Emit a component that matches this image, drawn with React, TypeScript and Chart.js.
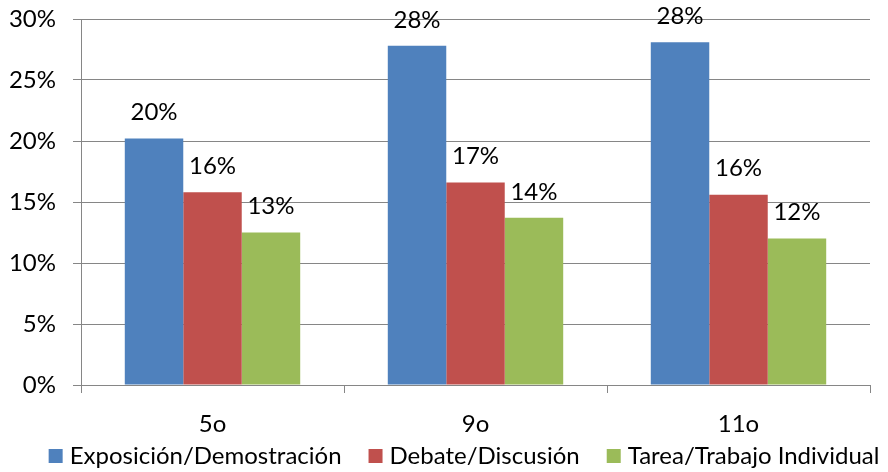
import { useEffect, useRef } from "react";
import { Chart, registerables } from "chart.js";

Chart.register(...registerables);

const FONT = "Lato, 'Open Sans', sans-serif";
const FONT_SIZE = 24;

const categories = ["5o", "9o", "11o"];
const seriesNames = ["Exposición/Demostración", "Debate/Discusión", "Tarea/Trabajo Individual"];
const exposicion = [20.2, 27.8, 28.1];
const debate = [15.8, 16.6, 15.6];
const tarea = [12.5, 13.7, 12.0];
const seriesColors = ["#4F81BD", "#C0504D", "#9BBB59"];
const yMin = 0;
const yMax = 30;
const yStep = 5;

const GRID = "#868686";

// Percentage labels drawn above each bar
const valueLabels = {
  id: "valueLabels",
  afterDatasetsDraw(chart: any) {
    const ctx = chart.ctx;
    ctx.save();
    ctx.font = `${FONT_SIZE}px ${FONT}`;
    ctx.fillStyle = "#000000";
    ctx.textAlign = "center";
    ctx.textBaseline = "middle";
    chart.data.datasets.forEach((ds: any, i: number) => {
      const meta = chart.getDatasetMeta(i);
      meta.data.forEach((bar: any, j: number) => {
        const v = ds.data[j] as number;
        ctx.fillText(`${Math.round(v)}%`, bar.x, bar.y - 26);
      });
    });
    ctx.restore();
  },
};

// Single-row legend under the axis: square swatch, short gap, series name
const bottomLegend = {
  id: "bottomLegend",
  afterDraw(chart: any) {
    const ctx = chart.ctx;
    const box = 14;
    const gap = 7;
    const spacing = 27;
    ctx.save();
    ctx.font = `${FONT_SIZE}px ${FONT}`;
    const items = chart.data.datasets.map((ds: any) => ({
      text: ds.label as string,
      color: ds.backgroundColor as string,
      w: ctx.measureText(ds.label).width,
    }));
    const total =
      items.reduce((s: number, it: any) => s + box + gap + it.w, 0) + spacing * (items.length - 1);
    let x = chart.width / 2 + 20 - total / 2;
    const cy = chart.height - 16;
    ctx.textBaseline = "middle";
    ctx.textAlign = "left";
    items.forEach((it: any) => {
      ctx.fillStyle = it.color;
      ctx.fillRect(x, cy - box / 2, box, box);
      ctx.fillStyle = "#000000";
      ctx.fillText(it.text, x + box + gap, cy);
      x += box + gap + it.w + spacing;
    });
    ctx.restore();
  },
};

export default function App() {
  const canvasRef = useRef<HTMLCanvasElement | null>(null);

  useEffect(() => {
    document.body.style.margin = "0";
    const canvas = canvasRef.current;
    if (!canvas) return;
    const values = [exposicion, debate, tarea];
    const chart = new Chart(canvas, {
      type: "bar",
      data: {
        labels: categories,
        datasets: seriesNames.map((name, i) => ({
          label: name,
          data: values[i],
          backgroundColor: seriesColors[i],
          borderWidth: 0,
          barPercentage: 1,
          categoryPercentage: 0.667,
        })),
      },
      options: {
        responsive: false,
        animation: false,
        layout: { padding: { left: 0, right: 18, top: 19, bottom: 27 } },
        plugins: {
          legend: { display: false },
          tooltip: { enabled: false },
        },
        scales: {
          x: {
            grid: {
              drawOnChartArea: false,
              drawTicks: true,
              tickLength: 8,
              color: GRID,
            },
            border: { color: GRID },
            ticks: {
              font: { family: FONT, size: FONT_SIZE },
              color: "#000000",
              padding: 17,
            },
            afterFit(scale: any) {
              scale.height = 60;
              scale.paddingLeft = 0;
              scale.paddingRight = 0;
            },
          },
          y: {
            min: yMin,
            max: yMax,
            grid: { color: GRID, tickLength: 8 },
            border: { color: GRID },
            ticks: {
              stepSize: yStep,
              font: { family: FONT, size: FONT_SIZE },
              color: "#000000",
              padding: 17,
              callback: (v: any) => `${v}%`,
            },
            afterFit(scale: any) {
              scale.width = 81;
              scale.paddingTop = 0;
              scale.paddingBottom = 0;
            },
          },
        },
      },
      plugins: [valueLabels, bottomLegend],
    });
    return () => chart.destroy();
  }, []);

  return (
    <div style={{ width: 888, height: 472 }}>
      <canvas ref={canvasRef} width={888} height={472} style={{ display: "block" }} />
    </div>
  );
}
